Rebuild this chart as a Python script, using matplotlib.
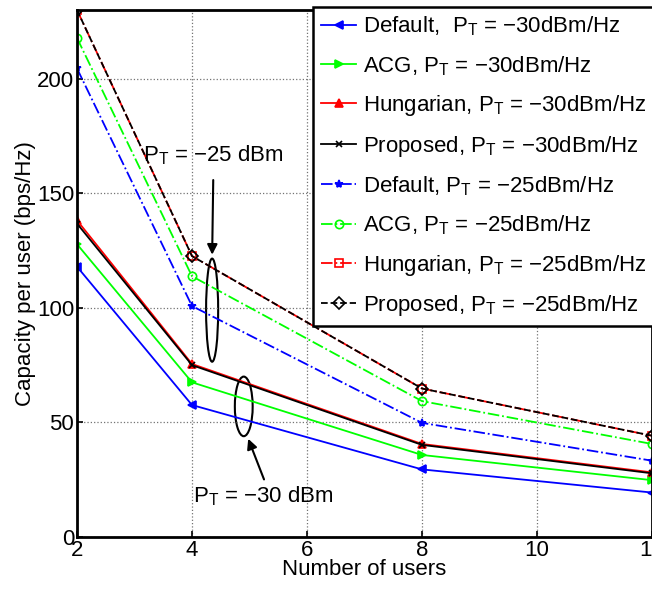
import matplotlib
matplotlib.use("Agg")
import matplotlib.pyplot as plt
from matplotlib.patches import Ellipse

plt.rcParams["font.family"] = ["Liberation Sans", "DejaVu Sans"]
plt.rcParams["mathtext.fontset"] = "custom"
plt.rcParams["mathtext.rm"] = "Liberation Sans"

users = [2, 4, 8, 12]

# P_T = -30 dBm
default_30 = [118, 57.6, 29.5, 19.4]
acg_30 = [127.8, 67.5, 35.8, 24.8]
hung_30 = [138.2, 75.5, 40.6, 28.2]
prop_30 = [136.8, 75.0, 40.2, 27.8]

# P_T = -25 dBm
default_25 = [204.5, 100.8, 49.8, 33.3]
acg_25 = [217.8, 113.8, 59.3, 40.6]
hung_25 = [230.0, 122.6, 64.8, 44.2]
prop_25 = [230.0, 122.6, 64.8, 44.2]

series = [
    (default_30, "b", "-", "<", "Default,  $\\mathrm{P_T}$ = \u221230dBm/Hz"),
    (acg_30, "#00ff00", "-", ">", "ACG, $\\mathrm{P_T}$ = \u221230dBm/Hz"),
    (hung_30, "r", "-", "^", "Hungarian, $\\mathrm{P_T}$ = \u221230dBm/Hz"),
    (prop_30, "k", "-", "x", "Proposed, $\\mathrm{P_T}$ = \u221230dBm/Hz"),
    (default_25, "b", "-.", "*", "Default, $\\mathrm{P_T}$ = \u221225dBm/Hz"),
    (acg_25, "#00ff00", "-.", "o", "ACG, $\\mathrm{P_T}$ = \u221225dBm/Hz"),
    (hung_25, "r", "-.", "s", "Hungarian, $\\mathrm{P_T}$ = \u221225dBm/Hz"),
    (prop_25, "k", "--", "D", "Proposed, $\\mathrm{P_T}$ = \u221225dBm/Hz"),
]

FS = 16

fig = plt.figure(figsize=(6.52, 5.93), dpi=100)
ax = fig.add_axes([77 / 652, 1 - 537 / 593, 575 / 652, 527 / 593])

for vals, c, ls, mk, lab in series:
    open_mk = mk in ("o", "s", "D")
    ax.plot(users, vals, color=c, ls=ls, lw=1.3, marker=mk,
            ms=6 if mk != "x" else 5, mew=1.2,
            mfc="none" if open_mk else c, mec=c, label=lab)

ax.set_xlim(2, 12)
ax.set_ylim(0, 230)
ax.set_xticks([2, 4, 6, 8, 10, 12])
ax.set_yticks([0, 50, 100, 150, 200])
ax.grid(True, ls=":", color="0.45", lw=0.9)
for s in ax.spines.values():
    s.set_linewidth(2)
ax.tick_params(labelsize=FS, direction="in", width=1.2, length=4, pad=2)
ax.set_xlabel("Number of users", fontsize=FS, labelpad=-1)
ax.set_ylabel("Capacity per user (bps/Hz)", fontsize=FS, labelpad=1)

# annotations
ax.add_patch(Ellipse((4.35, 99), 0.21, 45, fill=False, ec="k", lw=1.5))
ax.add_patch(Ellipse((4.90, 57), 0.31, 26, fill=False, ec="k", lw=1.5))
ax.annotate("", xy=(4.35, 122), xytext=(4.37, 157),
            arrowprops=dict(arrowstyle="-|>", color="k", lw=1.5, mutation_scale=15))
ax.annotate("", xy=(4.96, 44), xytext=(5.27, 24),
            arrowprops=dict(arrowstyle="-|>", color="k", lw=1.5, mutation_scale=15))
ax.text(3.15, 164, "$\\mathrm{P_T}$ = \u221225 dBm", fontsize=FS, va="baseline")
ax.text(4.02, 15, "$\\mathrm{P_T}$ = \u221230 dBm", fontsize=FS, va="baseline")

leg = fig.legend(loc="upper left", bbox_to_anchor=(313 / 652, 1 - 7 / 593),
                 fontsize=FS, handlelength=1.6, handletextpad=0.3,
                 labelspacing=0.7, borderpad=0.35, borderaxespad=0,
                 fancybox=False, framealpha=1, edgecolor="k")
leg.get_frame().set_linewidth(1.8)

fig.savefig("out.png", dpi=100)
